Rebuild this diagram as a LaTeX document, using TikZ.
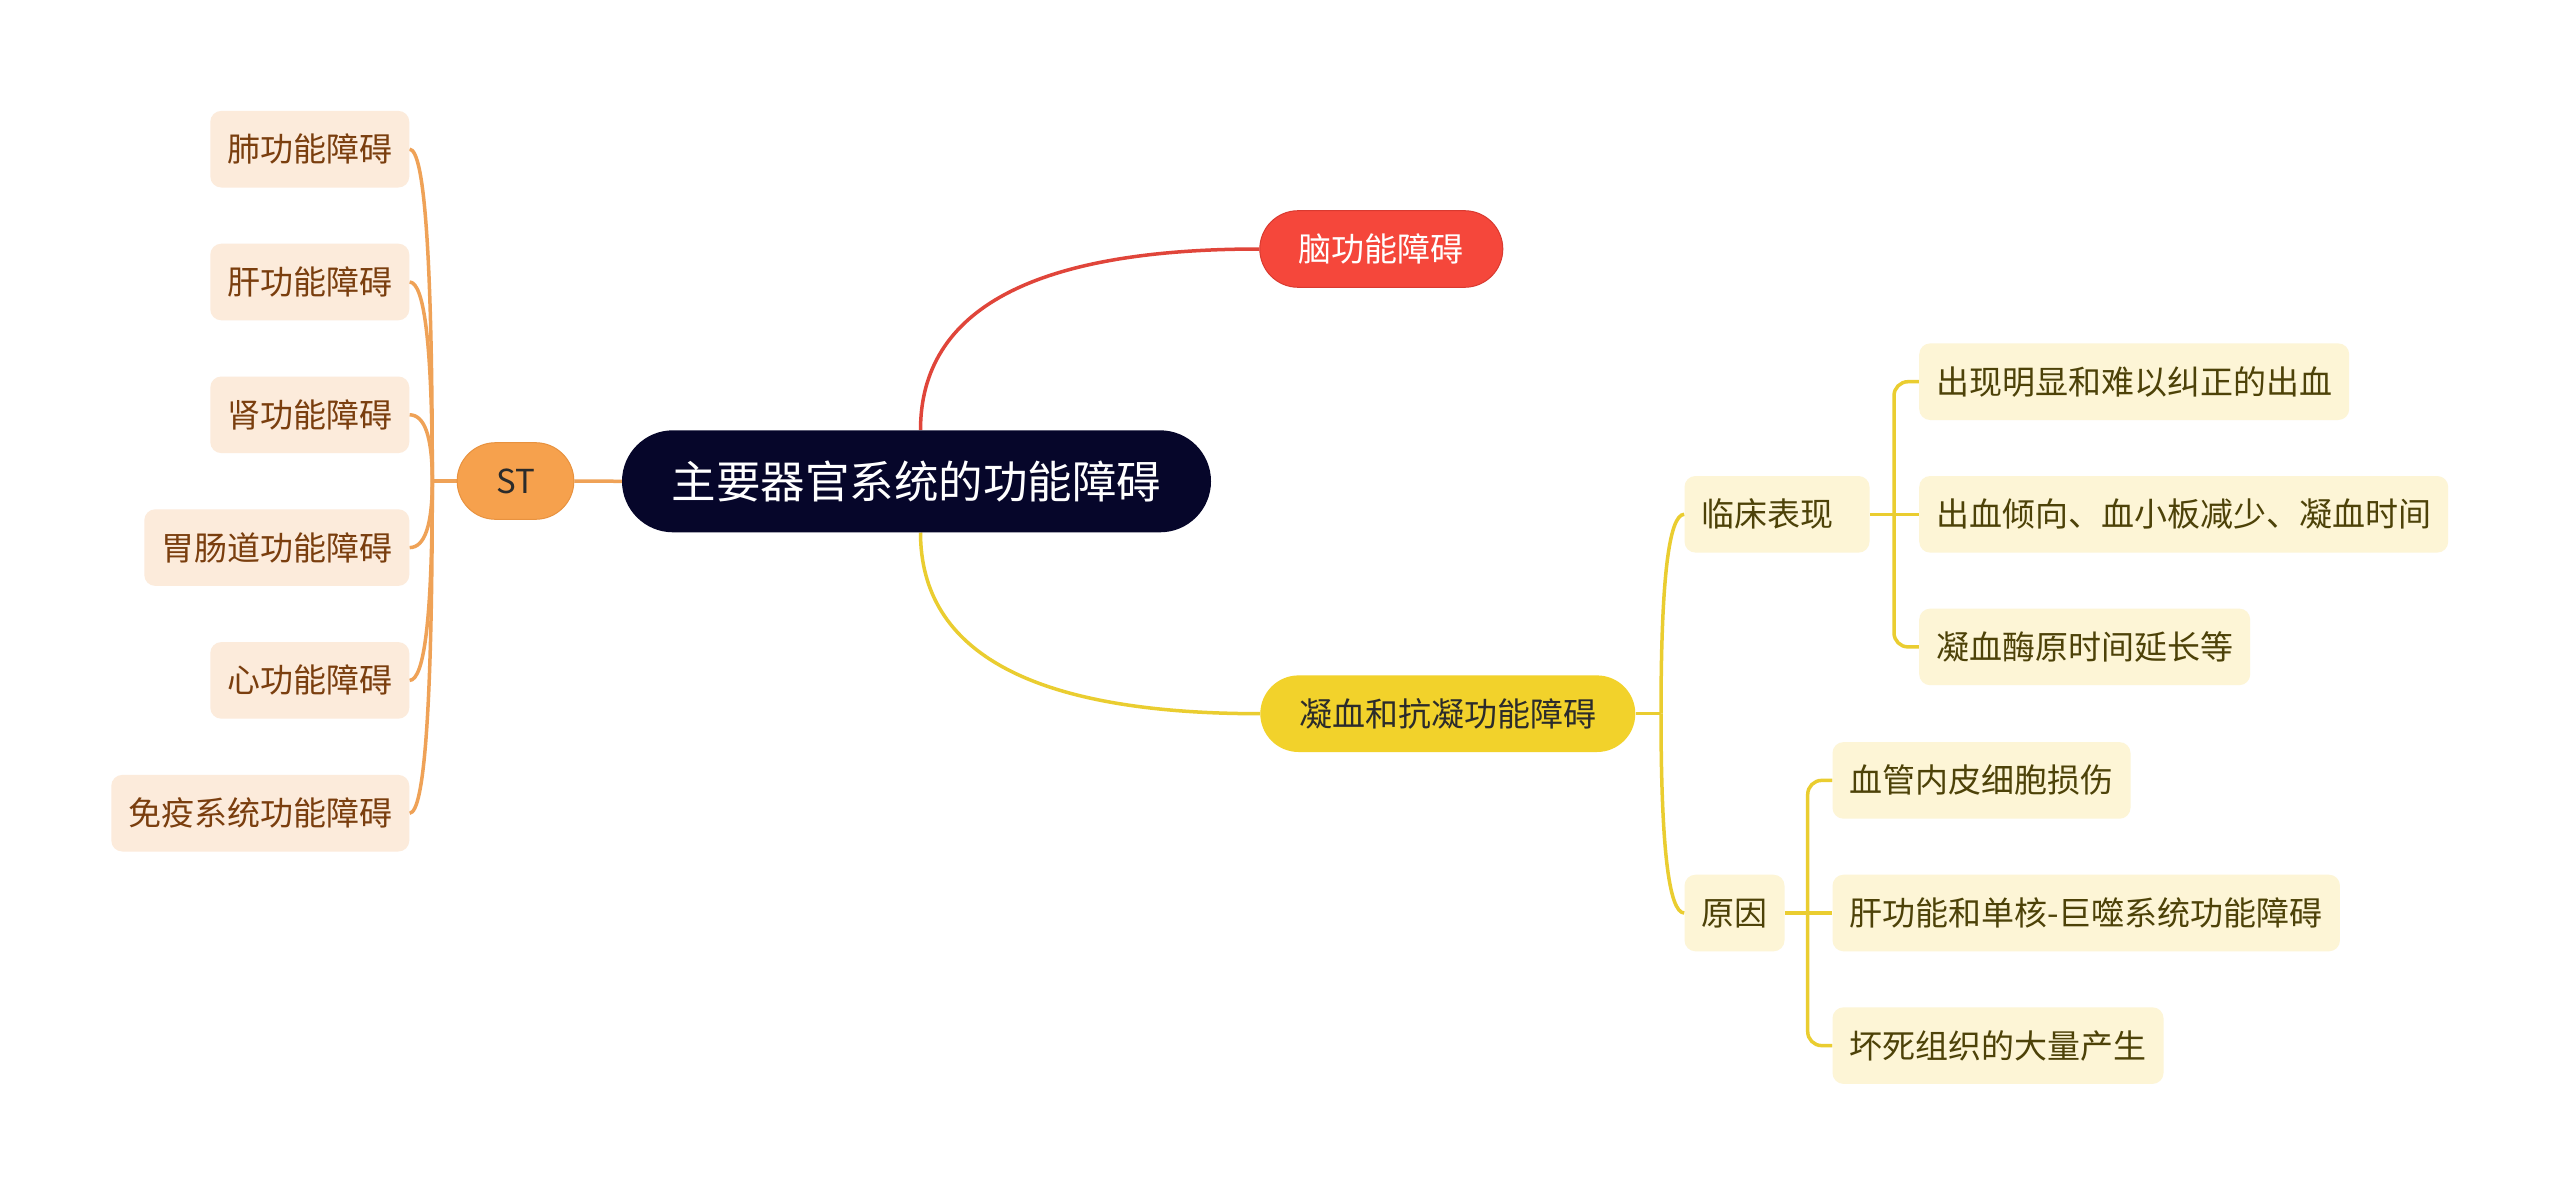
\documentclass[tikz,border=0pt]{standalone}
\usepackage{fontspec}
\usetikzlibrary{calc}
\setmainfont{Noto Sans CJK SC}
\definecolor{peach}{HTML}{FCEBDB}
\definecolor{brownT}{HTML}{7A3E0E}
\definecolor{orangeL}{HTML}{EFA257}
\definecolor{stF}{HTML}{F6A14D}
\definecolor{stB}{HTML}{E8923F}
\definecolor{navy}{HTML}{06062A}
\definecolor{redF}{HTML}{F5473B}
\definecolor{redB}{HTML}{D93A30}
\definecolor{redL}{HTML}{E0453A}
\definecolor{yelF}{HTML}{F2D22B}
\definecolor{yelL}{HTML}{EACD30}
\definecolor{cream}{HTML}{FDF5D6}
\definecolor{oliveT}{HTML}{4D4208}
\definecolor{darkT}{HTML}{2B2B2B}
\pgfdeclarelayer{bg}
\pgfsetlayers{bg,main}
\tikzset{
  base/.style={inner ysep=0pt, minimum height=76.6pt, text height=27.4pt, text depth=2.3pt,
    font=\fontsize{33pt}{33pt}\selectfont},
  leafL/.style={base, fill=peach, rounded corners=11pt, inner xsep=17pt, text=brownT, anchor=east},
  leafR/.style={base, fill=cream, rounded corners=11pt, inner xsep=17pt, text=oliveT, anchor=west},
  pill/.style={base, rounded corners=38.3pt, inner xsep=39pt},
  oline/.style={draw=orangeL, line width=3.5pt},
  rline/.style={draw=redL, line width=3.5pt},
  yline/.style={draw=yelL, line width=3.5pt},
}
% quadratic curve: style, start, control, end
\newcommand\qcurv[4]{\draw[#1] (#2) .. controls ($(#2)!2/3!(#3)$) and ($(#4)!2/3!(#3)$) .. (#4);}
\begin{document}
\begin{tikzpicture}[x=1pt,y=-1pt]
\useasboundingbox (0,0) rectangle (2560,1196);

% left leaves
\node[leafL] (l1) at (409.5,149.2) {肺功能障碍};
\node[leafL] (l2) at (409.5,282.0) {肝功能障碍};
\node[leafL] (l3) at (409.5,414.8) {肾功能障碍};
\node[leafL] (l4) at (409.5,547.6) {胃肠道功能障碍};
\node[leafL] (l5) at (409.5,680.4) {心功能障碍};
\node[leafL] (l6) at (409.5,813.2) {免疫系统功能障碍};

\node[pill, fill=stF, draw=stB, line width=1pt, text=darkT] (st) at (515.5,481) {ST};

\node[inner sep=0pt, minimum width=589pt, minimum height=102pt, rounded corners=51pt,
  fill=navy, text=white, text height=36.9pt, text depth=3.1pt,
  font=\fontsize{44.5pt}{44.5pt}\selectfont] (c) at (916.5,481.3) {主要器官系统的功能障碍};

\node[pill, fill=redF, draw=redB, line width=1pt, text=white] (brain) at (1381.3,249) {脑功能障碍};
\node[pill, fill=yelF, text=darkT] (coag) at (1447.8,713.7) {凝血和抗凝功能障碍};

\node[leafR, text width=151pt, align=left] (lc) at (1684.3,514.3) {临床表现};
\node[leafR] (yy) at (1684.3,913) {原因};

\node[leafR] (a1) at (1919,381.7) {出现明显和难以纠正的出血};
\node[leafR] (a2) at (1919,514.3) {出血倾向、血小板减少、凝血时间};
\node[leafR] (a3) at (1919,646.9) {凝血酶原时间延长等};

\node[leafR] (b1) at (1832.3,780.4) {血管内皮细胞损伤};
\node[leafR] (b2) at (1832.3,913) {肝功能和单核-巨噬系统功能障碍};
\node[leafR] (b3) at (1832.3,1045.6) {坏死组织的大量产生};

\begin{pgfonlayer}{bg}
  \fill[white] (0,0) rectangle (2560,1196);
  \coordinate (lb) at (432.3,481);
  \draw[oline] (st.west) -- (lb);
  \foreach \n in {l1,l2,l3,l4,l5,l6}{
    \coordinate (k) at (lb |- \n.east);
    \qcurv{oline}{lb}{k}{\n.east}
  }
  \draw[oline] (st.east) -- (c.west);

  \coordinate (ctop) at ([xshift=4pt]c.north);
  \coordinate (cbot) at ([xshift=4pt]c.south);
  \coordinate (kr) at (ctop |- brain.west);
  \coordinate (ky) at (cbot |- coag.west);
  \qcurv{rline}{ctop}{kr}{brain.west}
  \qcurv{yline}{cbot}{ky}{coag.west}

  \coordinate (rb) at (1661,713.7);
  \draw[yline] (coag.east) -- (rb);
  \coordinate (k1) at (rb |- lc.west);
  \coordinate (k2) at (rb |- yy.west);
  \qcurv{yline}{rb}{k1}{lc.west}
  \qcurv{yline}{rb}{k2}{yy.west}

  \coordinate (rb1) at (1894,514.3);
  \draw[yline] (lc.east) -- (a2.west);
  \draw[yline, rounded corners=14pt] (rb1) -- (rb1 |- a1.west) -- (a1.west);
  \draw[yline, rounded corners=14pt] (rb1) -- (rb1 |- a3.west) -- (a3.west);

  \coordinate (rb2) at (1807.7,913);
  \draw[yline] (yy.east) -- (b2.west);
  \draw[yline, rounded corners=14pt] (rb2) -- (rb2 |- b1.west) -- (b1.west);
  \draw[yline, rounded corners=14pt] (rb2) -- (rb2 |- b3.west) -- (b3.west);
\end{pgfonlayer}
\end{tikzpicture}
\end{document}
